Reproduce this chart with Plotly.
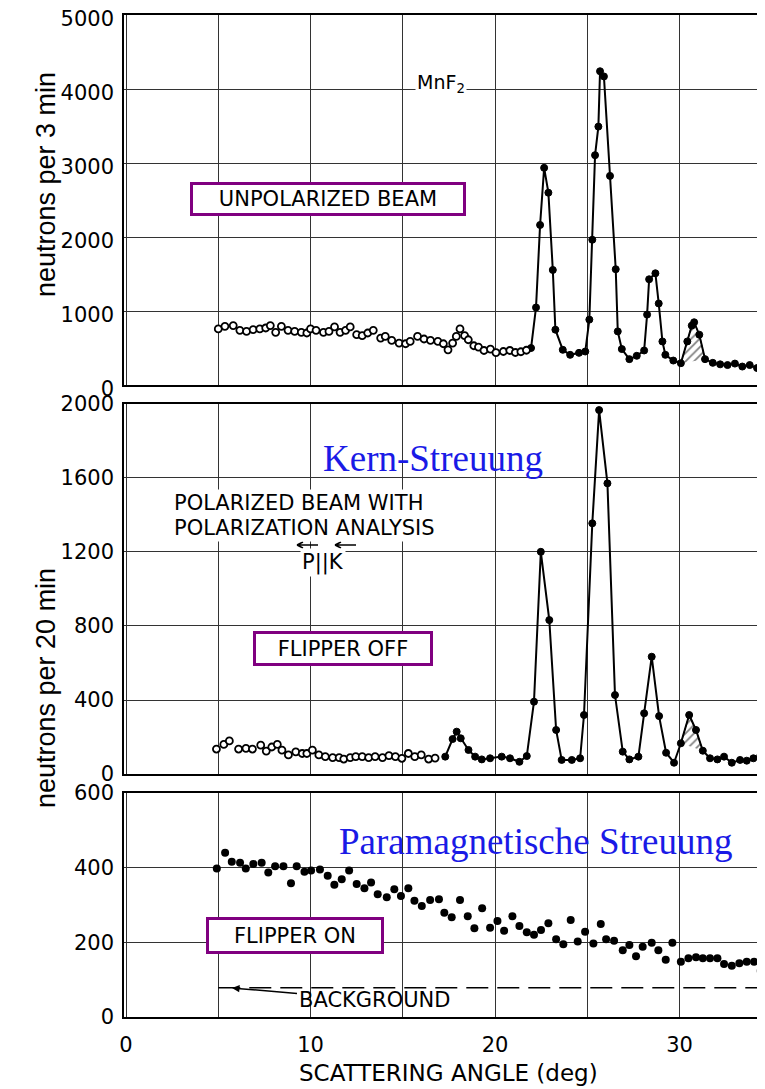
import plotly.graph_objects as go

# ---------------- data (scattering angle in deg, counts) ----------------
# Panel 1: unpolarized beam (neutrons per 3 min)
UNPOL_BG_ANGLE = [5.0, 5.36, 5.81, 6.17, 6.53, 6.89, 7.25, 7.57, 7.82, 8.11, 8.42, 8.78, 9.14, 9.5,
                  9.8, 10.0, 10.3, 10.7, 11.0, 11.3, 11.6, 11.9, 12.15, 12.5, 12.8, 13.1, 13.4, 13.8,
                  14.05, 14.4, 14.8, 15.15, 15.4, 15.8, 16.15, 16.5, 16.9, 17.2, 17.45, 17.7, 17.9,
                  18.1, 18.35, 18.55, 18.85, 19.1, 19.4, 19.75, 20.05, 20.45, 20.8, 21.1, 21.4, 21.7]
UNPOL_BG_COUNTS = [758, 793, 803, 739, 725, 748, 758, 771, 803, 712, 793, 739, 725, 712,
                   703, 758, 739, 712, 725, 785, 712, 739, 785, 680, 667, 703, 739, 635,
                   657, 603, 567, 558, 589, 657, 622, 603, 589, 558, 476, 567, 657,
                   758, 667, 612, 531, 513, 467, 486, 439, 453, 467, 440, 450, 470]
UNPOL_PEAK_ANGLE = [21.95, 22.22, 22.44, 22.66, 22.89, 23.13, 23.27, 23.67, 24.07, 24.55, 24.89,
                    25.11, 25.27, 25.42, 25.6, 25.69, 25.9, 26.23, 26.54, 26.65, 26.87, 27.28,
                    27.68, 28.08, 28.24, 28.35, 28.69, 28.87, 29.07, 29.23, 29.66, 30.07, 30.42,
                    30.66, 30.79, 31.07, 31.38, 31.8, 32.2, 32.6, 33.0, 33.4, 33.8, 34.2, 34.5]
UNPOL_PEAK_COUNTS = [500, 1048, 2163, 2935, 2599, 1555, 748, 476, 408, 435, 453,
                     884, 1963, 3106, 3492, 4240, 4170, 2826, 1565, 725, 486, 350,
                     395, 467, 952, 1429, 1510, 1102, 589, 408, 331, 295, 589,
                     803, 848, 680, 350, 300, 280, 270, 290, 250, 270, 230, 230]

# Panel 2: polarized beam, flipper off (neutrons per 20 min)
OFF_BG_ANGLE = [4.9, 5.3, 5.6, 6.1, 6.5, 6.85, 7.3, 7.6, 7.9, 8.2, 8.45, 8.8, 9.2, 9.55, 9.8,
                10.1, 10.45, 10.8, 11.2, 11.55, 11.8, 12.15, 12.45, 12.8, 13.15, 13.5, 13.9,
                14.25, 14.6, 14.95, 15.3, 15.65, 16.0, 16.4, 16.75]
OFF_BG_COUNTS = [135, 160, 179, 135, 139, 135, 156, 124, 146, 160, 129, 103, 120, 111, 111,
                 129, 103, 94, 89, 89, 81, 89, 94, 94, 89, 94, 89,
                 99, 94, 85, 111, 94, 103, 81, 86]
OFF_PEAK_ANGLE = [17.3, 17.7, 17.92, 18.14, 18.56, 18.92, 19.28, 19.73, 20.36, 20.81, 21.32,
                  21.72, 22.11, 22.48, 22.94, 23.31, 23.61, 24.16, 24.61, 24.82, 25.27, 25.64,
                  26.09, 26.5, 26.92, 27.28, 27.77, 28.08, 28.49, 28.89, 29.27, 29.7, 30.07,
                  30.52, 30.89, 31.26, 31.65, 32.05, 32.41, 32.83, 33.28, 33.64, 34.0, 34.36]
OFF_PEAK_COUNTS = [94, 189, 229, 193, 130, 94, 79, 85, 94, 85, 66,
                   97, 391, 1201, 832, 238, 76, 76, 85, 319, 1355, 1967,
                   1571, 427, 121, 79, 94, 328, 634, 313, 115, 61, 166,
                   319, 238, 126, 85, 79, 94, 61, 76, 72, 85, 94]

# Panel 3: polarized beam, flipper on (neutrons per 20 min)
ON_ANGLE = [4.92, 5.37, 5.73, 6.18, 6.49, 6.9, 7.35, 7.71, 8.08, 8.53, 8.94, 9.25, 9.67, 10.03,
            10.51, 10.93, 11.29, 11.69, 12.09, 12.5, 12.92, 13.28, 13.64, 14.13, 14.54, 14.9,
            15.3, 15.63, 16.03, 16.48, 16.96, 17.25, 17.65, 18.1, 18.52, 18.88, 19.3, 19.73,
            20.13, 20.49, 20.94, 21.32, 21.72, 22.11, 22.49, 22.89, 23.31, 23.7, 24.1, 24.48,
            24.88, 25.33, 25.73, 26.02, 26.45, 26.92, 27.28, 27.64, 28.0, 28.49, 28.85, 29.25,
            29.61, 30.07, 30.48, 30.89, 31.26, 31.65, 32.05, 32.41, 32.83, 33.24, 33.64, 34.04, 34.4]
ON_COUNTS = [398, 440, 416, 413, 398, 410, 413, 387, 404, 404, 358, 404, 389, 392,
             395, 378, 354, 369, 392, 356, 345, 360, 329, 321, 342, 324,
             345, 311, 297, 313, 315, 279, 267, 313, 270, 238, 291, 239,
             257, 231, 270, 244, 227, 220, 233, 251, 208, 195, 260, 202,
             228, 197, 249, 208, 204, 179, 193, 163, 188, 199, 179, 153,
             199, 148, 157, 160, 157, 157, 157, 142, 137, 144, 148, 148, 124]

BACKGROUND_ANGLE = [5.0, 34.7]
BACKGROUND_LEVEL = [78, 78]

HATCH_RANGE_P1 = (30.0, 31.4)
HATCH_RANGE_P2 = (30.0, 31.3)

X_TICKS = [0, 5, 10, 15, 20, 25, 30]
X_TICKTEXT = ["0", "", "10", "", "20", "", "30"]
Y1_TICKS = [0, 1000, 2000, 3000, 4000, 5000]
Y2_TICKS = [0, 400, 800, 1200, 1600, 2000]
Y3_TICKS = [0, 200, 400, 600]

# ---------------- figure ----------------
fig = go.Figure()

OPEN = dict(symbol="circle", size=7, color="white", line=dict(color="black", width=1.8))
FILLED = dict(symbol="circle", size=7, color="black", line=dict(color="black", width=1))


def hatch(xs, ys, rng, xa, ya):
    px = [x for x in xs if rng[0] <= x <= rng[1]]
    py = [y for x, y in zip(xs, ys) if rng[0] <= x <= rng[1]]
    fig.add_trace(go.Scatter(x=px, y=py, xaxis=xa, yaxis=ya, mode="lines", fill="toself",
                             fillcolor="white",
                             fillpattern=dict(shape="/", fgcolor="black", bgcolor="white",
                                              size=6, solidity=0.3),
                             line=dict(color="black", width=1), hoverinfo="skip"))


# panel 1
hatch(UNPOL_PEAK_ANGLE, UNPOL_PEAK_COUNTS, HATCH_RANGE_P1, "x", "y")
fig.add_trace(go.Scatter(x=UNPOL_PEAK_ANGLE, y=UNPOL_PEAK_COUNTS, xaxis="x", yaxis="y",
                         mode="lines+markers", line=dict(color="black", width=2), marker=FILLED))
fig.add_trace(go.Scatter(x=UNPOL_BG_ANGLE, y=UNPOL_BG_COUNTS, xaxis="x", yaxis="y",
                         mode="markers", marker=OPEN))

# panel 2
hatch(OFF_PEAK_ANGLE, OFF_PEAK_COUNTS, HATCH_RANGE_P2, "x2", "y2")
fig.add_trace(go.Scatter(x=OFF_PEAK_ANGLE, y=OFF_PEAK_COUNTS, xaxis="x2", yaxis="y2",
                         mode="lines+markers", line=dict(color="black", width=2), marker=FILLED))
fig.add_trace(go.Scatter(x=OFF_BG_ANGLE, y=OFF_BG_COUNTS, xaxis="x2", yaxis="y2",
                         mode="markers", marker=OPEN))

# panel 3
fig.add_trace(go.Scatter(x=BACKGROUND_ANGLE, y=BACKGROUND_LEVEL, xaxis="x3", yaxis="y3",
                         mode="lines", line=dict(color="black", width=1.5, dash="22px,9px")))
fig.add_trace(go.Scatter(x=ON_ANGLE, y=ON_COUNTS, xaxis="x3", yaxis="y3",
                         mode="markers", marker=dict(symbol="circle", size=8, color="black")))

TICKFONT = dict(family="DejaVu Sans", size=21, color="black")
XRANGE = [-0.11, 34.63]

xcommon = dict(range=XRANGE, tickvals=X_TICKS, ticktext=X_TICKTEXT, showgrid=True,
               gridcolor="#333", gridwidth=1, zeroline=False, showline=True, linecolor="black",
               linewidth=1.5, mirror=True, ticks="", tickfont=TICKFONT, ticklabelstandoff=8,
               automargin=False, ticklabeloverflow="allow")
ycommon = dict(showgrid=True, gridcolor="#333", gridwidth=1, zeroline=False, showline=True,
               linecolor="black", linewidth=1.5, mirror=True, ticks="", tickfont=TICKFONT,
               ticklabelstandoff=4, automargin=False, ticklabeloverflow="allow")

# the page body adds an 8px margin, so the figure is 8px smaller and margins shifted by 8px
fig.update_layout(
    width=757, height=1081,
    margin=dict(l=116, r=0, t=7, b=72, autoexpand=False),
    paper_bgcolor="white", plot_bgcolor="white",
    showlegend=False,
    xaxis=dict(xcommon, anchor="y", showticklabels=False),
    xaxis2=dict(xcommon, anchor="y2", showticklabels=False, matches="x"),
    xaxis3=dict(xcommon, anchor="y3", showticklabels=True, matches="x"),
    yaxis=dict(ycommon, domain=[0.6307, 1.0], range=[0, 5000], tickvals=Y1_TICKS, anchor="x",
               ticklabelshift=4),
    yaxis2=dict(ycommon, domain=[0.2425, 0.6118], range=[0, 2000], tickvals=Y2_TICKS, anchor="x2"),
    yaxis3=dict(ycommon, domain=[0.0, 0.2236], range=[0, 600], tickvals=Y3_TICKS, anchor="x3"),
)

LABELFONT = dict(family="DejaVu Sans", size=21, color="black")
BLUE = "#1a1ae6"
PURPLE = "#800080"


def px_x(p):
    return (p - 124) / 641


def px_y(p):
    return (1017 - p) / 1002


anns = [
    dict(x=px_x(441), y=px_y(83), text="MnF<sub>2</sub>",
         font=dict(family="DejaVu Sans", size=19, color="black"), bgcolor="white"),
    dict(x=px_x(327.5), y=px_y(199), text="UNPOLARIZED BEAM", font=LABELFONT, width=268,
         height=26, bordercolor=PURPLE, borderwidth=3, borderpad=1, bgcolor="white"),
    dict(x=px_x(433), y=px_y(458), text="Kern-Streuung",
         font=dict(family="Liberation Serif", size=37, color=BLUE)),
    dict(x=px_x(172), y=px_y(503), text="POLARIZED BEAM WITH", font=LABELFONT, xanchor="left",
         bgcolor="white"),
    dict(x=px_x(172), y=px_y(528), text="POLARIZATION ANALYSIS", font=LABELFONT, xanchor="left",
         bgcolor="white"),
    dict(x=px_x(323), y=px_y(562), text="P||K", font=LABELFONT, bgcolor="white"),
    dict(x=px_x(342.5), y=px_y(648.5), text="FLIPPER OFF", font=LABELFONT, width=172, height=27,
         bordercolor=PURPLE, borderwidth=3, borderpad=1, bgcolor="white"),
    dict(x=px_x(536), y=px_y(842), text="Paramagnetische Streuung",
         font=dict(family="Liberation Serif", size=37, color=BLUE)),
    dict(x=px_x(294.5), y=px_y(935.5), text="FLIPPER ON", font=LABELFONT, width=170, height=29,
         bordercolor=PURPLE, borderwidth=3, borderpad=1, bgcolor="white"),
    dict(x=px_x(449), y=px_y(1073), text="SCATTERING ANGLE (deg)",
         font=dict(family="DejaVu Sans", size=23, color="black")),
    dict(x=px_x(46), y=px_y(185), text="neutrons per 3 min", textangle=-90,
         font=dict(family="Liberation Sans", size=27, color="black")),
    dict(x=px_x(46), y=px_y(688), text="neutrons per 20 min", textangle=-90,
         font=dict(family="Liberation Sans", size=27, color="black")),
]
for a in anns:
    a.setdefault("xref", "paper")
    a.setdefault("yref", "paper")
    a.setdefault("showarrow", False)
    a.setdefault("xanchor", "center")
    a.setdefault("yanchor", "middle")
    fig.add_annotation(**a)

# vector arrows over P and K (drawn as small path shapes)
for head, tail in [(297, 318), (335, 356)]:
    yy = px_y(545)
    h, t = px_x(head), px_x(tail)
    dx, dy = 6 / 641, 3 / 1002
    fig.add_shape(type="path", xref="paper", yref="paper",
                  path=f"M {t} {yy} L {h} {yy} M {h} {yy} L {h + dx} {yy + dy} M {h} {yy} L {h + dx} {yy - dy}",
                  line=dict(color="black", width=1.5))

# BACKGROUND label with arrow
fig.add_annotation(x=px_x(232), y=px_y(988), xref="paper", yref="paper",
                   text="BACKGROUND", font=LABELFONT, showarrow=True, ax=142, ay=12,
                   arrowhead=2, arrowsize=1, arrowwidth=1.5, arrowcolor="black")

fig.write_html("out.html")
